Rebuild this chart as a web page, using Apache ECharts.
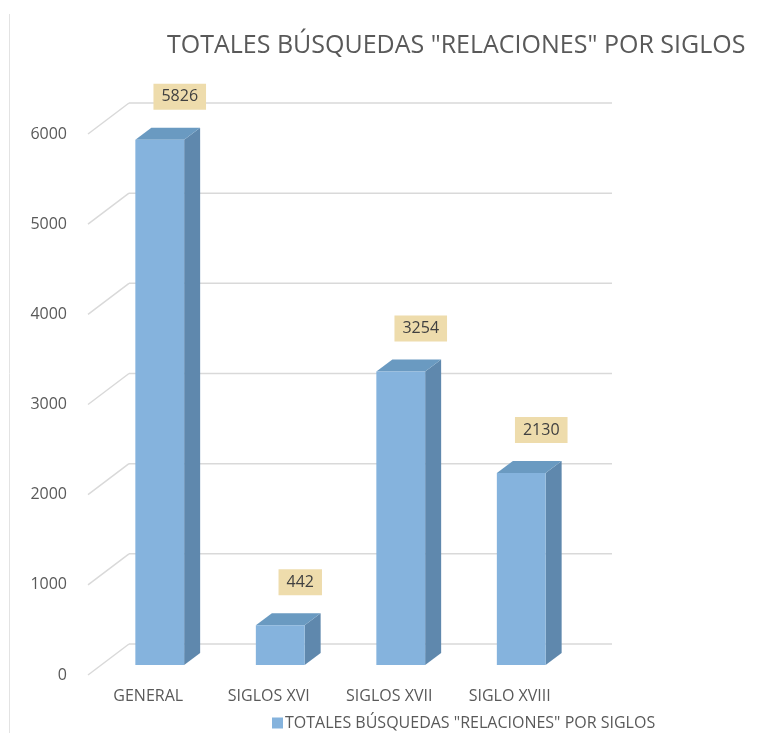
<!DOCTYPE html>
<html>
<head>
<meta charset="utf-8">
<script src="https://cdn.jsdelivr.net/npm/echarts@6/dist/echarts.min.js"></script>
<style>
  html, body { margin: 0; padding: 0; background: #fff; }
  #chart { width: 776px; height: 733px; }
</style>
</head>
<body>
<div id="chart"></div>
<script>
var categories = ['GENERAL', 'SIGLOS XVI', 'SIGLOS XVII', 'SIGLO XVIII'];
var values = [5826, 442, 3254, 2130];
var ticks = [0, 1000, 2000, 3000, 4000, 5000, 6000];
var seriesName = 'TOTALES BÚSQUEDAS "RELACIONES" POR SIGLOS';

var myChart = echarts.init(document.getElementById('chart'));

// 3d look: the back wall sits up and to the right of the front plane
var wallDx = 41, wallDy = -31;
var barDx = 16, barDy = -12;

function renderGrid(params, api) {
    var cs = params.coordSys;
    var y = api.coord([0, api.value(1)])[1];
    var x0 = cs.x;
    var x1 = cs.x + cs.width + 1;
    var style = { stroke: '#D9D9D9', lineWidth: 1.5 };
    return {
        type: 'group',
        children: [{
            type: 'line',
            shape: { x1: x0, y1: y, x2: x0 + wallDx, y2: y + wallDy },
            style: style
        }, {
            type: 'line',
            shape: { x1: x0 + wallDx, y1: y + wallDy, x2: x1 + wallDx, y2: y + wallDy },
            style: style
        }]
    };
}

function renderBar(params, api) {
    var idx = api.value(0);
    var top = api.coord([idx, api.value(1)]);
    var base = api.coord([idx, 0]);
    var w = api.size([1, 0])[0] * 0.405;
    var fx = top[0] + 11.5 - w / 2;
    var ty = top[1] - 10;
    var by = base[1] - 10;
    return {
        type: 'group',
        children: [{
            type: 'polygon',
            shape: { points: [[fx + w, ty], [fx + w + barDx, ty + barDy], [fx + w + barDx, by + barDy], [fx + w, by]] },
            style: { fill: '#5F88AD' }
        }, {
            type: 'polygon',
            shape: { points: [[fx, ty], [fx + w, ty], [fx + w + barDx, ty + barDy], [fx + barDx, ty + barDy]] },
            style: { fill: '#6A9AC1' }
        }, {
            type: 'rect',
            shape: { x: fx, y: ty, width: w, height: by - ty },
            style: { fill: '#85B3DD' }
        }, {
            type: 'text',
            x: top[0] + 11.5 + 20,
            y: ty - 43,
            style: {
                text: String(api.value(1)),
                align: 'center',
                verticalAlign: 'middle',
                font: '16px "Open Sans"',
                fill: '#404040',
                backgroundColor: '#EEDCAC',
                padding: [5, 8]
            }
        }]
    };
}

var option = {
    animation: false,
    title: {
        text: seriesName,
        left: 162,
        top: 28,
        textStyle: {
            fontFamily: 'Open Sans',
            fontSize: 25,
            fontWeight: 'normal',
            color: '#595959'
        }
    },
    legend: {
        data: [seriesName],
        left: 267,
        top: 710,
        icon: 'rect',
        itemWidth: 11,
        itemHeight: 11,
        itemGap: 4,
        textStyle: {
            fontFamily: 'Open Sans',
            fontSize: 16,
            color: '#595959',
            padding: [0, 0, 0, -3]
        }
    },
    graphic: [{
        type: 'line',
        shape: { x1: 9.5, y1: 14, x2: 9.5, y2: 733 },
        style: { stroke: '#E3E3E3', lineWidth: 1 }
    }],
    grid: {
        left: 88,
        right: 206,
        top: 134,
        bottom: 58
    },
    xAxis: {
        type: 'category',
        data: categories,
        axisLine: { show: false },
        axisTick: { show: false },
        axisLabel: {
            margin: 13,
            fontFamily: 'Open Sans',
            fontSize: 16,
            color: '#595959'
        }
    },
    yAxis: {
        type: 'value',
        min: 0,
        max: 6000,
        interval: 1000,
        axisLine: { show: false },
        axisTick: { show: false },
        splitLine: { show: false },
        axisLabel: {
            margin: 21,
            fontFamily: 'Open Sans',
            fontSize: 16,
            color: '#595959',
            formatter: function (v) { return String(v); }
        }
    },
    series: [{
        name: 'grid',
        type: 'custom',
        silent: true,
        renderItem: renderGrid,
        data: ticks.map(function (t) { return [0, t]; }),
        z: 1
    }, {
        name: seriesName,
        type: 'custom',
        renderItem: renderBar,
        itemStyle: { color: '#85B3DD' },
        data: values.map(function (v, i) { return [i, v]; }),
        z: 2
    }]
};

myChart.setOption(option);
</script>
</body>
</html>
